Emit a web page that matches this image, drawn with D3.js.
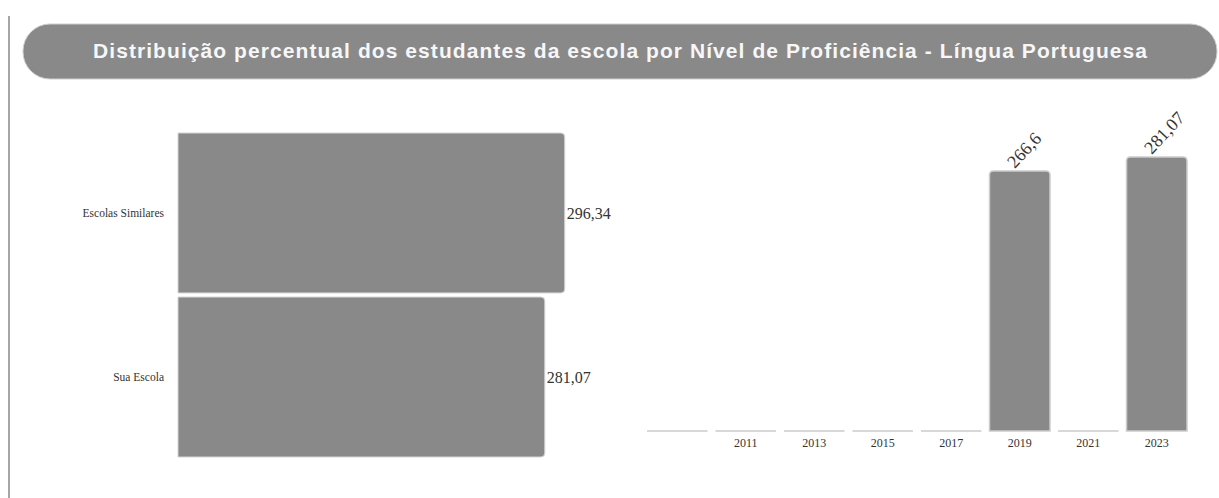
<!DOCTYPE html>
<html>
<head>
<meta charset="utf-8">
<script src="https://cdn.jsdelivr.net/npm/d3@7"></script>
<style>
  body { margin: 0; background: #fff; }
  svg { display: block; }
</style>
</head>
<body>
<div class="chart"></div>
<script>
const widthMax = 1219;
const heightMax = 498;

const titleText = "Distribuição percentual dos estudantes da escola por Nível de Proficiência - Língua Portuguesa";

// left chart: school vs similar schools
const groupNames = ["Escolas Similares", "Sua Escola"];
const groupValues = [296.34, 281.07];

// right chart: history by year
const years = ["", "2011", "2013", "2015", "2017", "2019", "2021", "2023"];
const yearValues = [0, 0, 0, 0, 0, 266.6, 0, 281.07];

const barColor = "#898989";
const serif = "'Liberation Serif', 'DejaVu Serif', serif";

const ptBR = d3.formatLocale({ decimal: ",", thousands: ".", grouping: [3], currency: ["", ""] });
const fmt = ptBR.format("");

// path for a rect with only two corners rounded
function roundedRight(x, y, w, h, r) {
    r = Math.min(r, w, h / 2);
    return `M${x},${y}H${x + w - r}Q${x + w},${y} ${x + w},${y + r}` +
           `V${y + h - r}Q${x + w},${y + h} ${x + w - r},${y + h}H${x}Z`;
}
function roundedTop(x, y, w, h, r) {
    r = Math.min(r, w / 2, h);
    return `M${x},${y + h}V${y + r}Q${x},${y} ${x + r},${y}` +
           `H${x + w - r}Q${x + w},${y} ${x + w},${y + r}V${y + h}Z`;
}

let svg = d3.select(".chart")
            .append("svg")
            .attr("width", widthMax)
            .attr("height", heightMax);

// left frame line
svg.append("line")
    .attr("x1", 9).attr("x2", 9)
    .attr("y1", 16).attr("y2", heightMax)
    .attr("stroke", "#a6a6a6")
    .attr("stroke-width", 2);

// title pill
svg.append("rect")
    .attr("x", 23).attr("y", 24)
    .attr("width", 1194).attr("height", 55)
    .attr("rx", 27).attr("ry", 27)
    .attr("fill", barColor)
    .attr("stroke", "#cfcfcf")
    .attr("stroke-width", 1);

svg.append("text")
    .text(titleText)
    .attr("x", 620)
    .attr("y", 58)
    .attr("text-anchor", "middle")
    .attr("textLength", 1054)
    .attr("lengthAdjust", "spacing")
    .attr("fill", "#f7f7f7")
    .style("font-family", "'Liberation Sans', Arial, sans-serif")
    .style("font-weight", "bold")
    .style("font-size", "21px");

// ---- left horizontal bars
const xLeft = d3.scaleLinear()
        .domain([0, 300])
        .range([178, 178 + 300 * 1.305]);

const yLeft = d3.scaleBand()
        .domain(groupNames)
        .range([133, 457])
        .paddingInner(0.025);

const leftData = groupNames.map((name, i) => ({ name: name, value: groupValues[i] }));

let left = svg.append("g").attr("class", "left");

left.selectAll(".hbar")
    .data(leftData)
    .enter()
    .append("path")
    .attr("class", "hbar")
    .attr("d", (d) => roundedRight(xLeft(0), yLeft(d.name), xLeft(d.value) - xLeft(0), yLeft.bandwidth(), 4))
    .attr("fill", barColor)
    .attr("stroke", "#d4d4d4")
    .attr("stroke-width", 1);

left.selectAll(".hlabel")
    .data(leftData)
    .enter()
    .append("text")
    .attr("class", "hlabel")
    .text((d) => fmt(d.value))
    .attr("x", (d) => xLeft(d.value) + 2)
    .attr("y", (d) => yLeft(d.name) + yLeft.bandwidth() / 2)
    .attr("dy", "0.35em")
    .attr("fill", "#333")
    .style("font-family", serif)
    .style("font-size", "16px");

left.selectAll(".hcat")
    .data(leftData)
    .enter()
    .append("text")
    .attr("class", "hcat")
    .text((d) => d.name)
    .attr("x", 164)
    .attr("y", (d) => yLeft(d.name) + yLeft.bandwidth() / 2)
    .attr("dy", "0.35em")
    .attr("text-anchor", "end")
    .attr("fill", "#333")
    .style("font-family", serif)
    .style("font-size", "11.5px");

// ---- right vertical bars
const xRight = d3.scaleBand()
        .domain(years)
        .range([647, 1187])
        .paddingInner(0.117);

const yRight = d3.scaleLinear()
        .domain([0, 300])
        .range([431, 431 - 300 * 0.975]);

const rightData = years.map((y, i) => ({ year: y, value: yearValues[i] }));

let right = svg.append("g").attr("class", "right");

right.selectAll(".vbar")
    .data(rightData)
    .enter()
    .append("path")
    .attr("class", "vbar")
    .attr("d", (d) => roundedTop(xRight(d.year), yRight(d.value), xRight.bandwidth(), yRight(0) - yRight(d.value), 4))
    .attr("fill", barColor)
    .attr("stroke", "#cccccc")
    .attr("stroke-width", 1.5);

right.selectAll(".vlabel")
    .data(rightData.filter((d) => d.value > 0))
    .enter()
    .append("text")
    .attr("class", "vlabel")
    .text((d) => fmt(d.value))
    .attr("transform", (d) => "translate(" + (xRight(d.year) + xRight.bandwidth() / 2 - 5) + "," + (yRight(d.value) - 2) + ") rotate(-47)")
    .attr("fill", "#333")
    .style("font-family", serif)
    .style("font-size", "18px");

right.selectAll(".vcat")
    .data(rightData)
    .enter()
    .append("text")
    .attr("class", "vcat")
    .text((d) => d.year)
    .attr("x", (d) => xRight(d.year) + xRight.bandwidth() / 2)
    .attr("y", 447)
    .attr("text-anchor", "middle")
    .attr("fill", "#333")
    .style("font-family", serif)
    .style("font-size", "12px");
</script>
</body>
</html>
